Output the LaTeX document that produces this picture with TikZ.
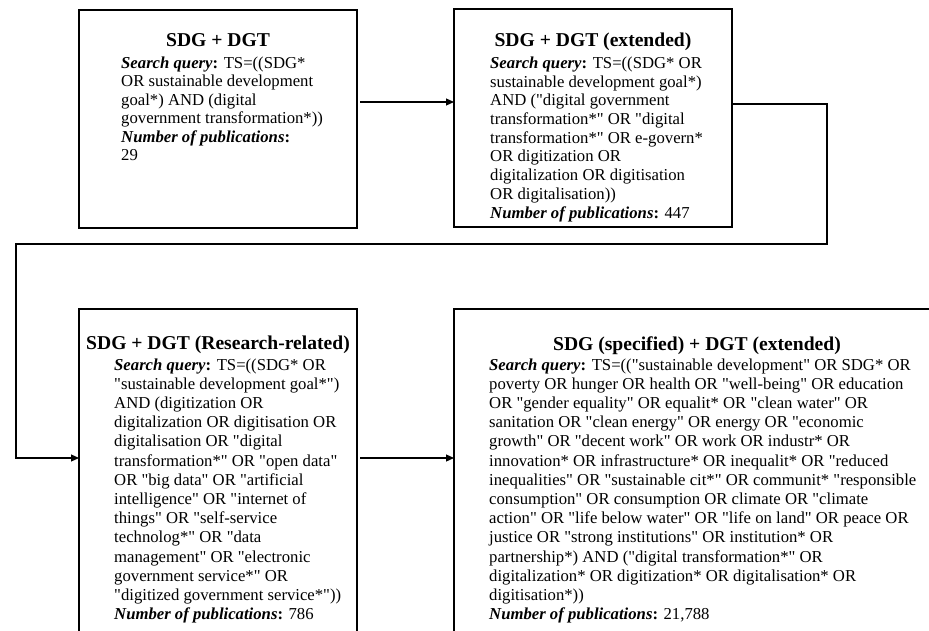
\documentclass[tikz,border=0pt]{standalone}
\usepackage{fontspec}
\setmainfont{Liberation Serif}[Ligatures=TeXOff]
\usetikzlibrary{arrows.meta}

% label macros for the query boxes
\newcommand{\sq}{\textbf{\textit{Search query}:}}
\newcommand{\np}{\textbf{\textit{Number of publications}:}}
% #1 = line spacing, #2 = lines separated by \\ (baseline = first line)
\newcommand{\qbody}[2]{{\fontsize{16.7}{#1}\selectfont\begin{tabular}[t]{@{}l@{}}#2\end{tabular}}}

\begin{document}
\begin{tikzpicture}[x=1pt, y=-1pt,
  qbox/.style={draw, line width=1.2pt, rectangle, inner sep=0pt, outer sep=0pt},
  qtitle/.style={anchor=base, inner sep=0pt, font=\fontsize{19.6}{22}\selectfont\bfseries},
  qtext/.style={anchor=base west, inner sep=0pt},
  conn/.style={draw, line width=1.2pt, -{Triangle[length=8pt, width=7pt]}},
  startgap/.style={shorten <=3pt}]

\useasboundingbox (0,0) rectangle (929,631);
\clip (0,0) rectangle (929,631);

% boxes
\node[qbox, minimum width=278pt, minimum height=218pt] (b1) at (218,119) {};
\node[qbox, minimum width=278pt, minimum height=218pt] (b2) at (593,118) {};
\node[qbox, minimum width=278pt, minimum height=391pt] (b3) at (218,504.5) {};
\node[qbox, minimum width=491pt, minimum height=391pt] (b4) at (699.5,504.5) {};

% titles
\node[qtitle] (h1) at (218,47) {SDG + DGT};
\node[qtitle] (h2) at (593,47) {SDG + DGT (extended)};
\node[qtitle] (h3) at (218,349) {SDG + DGT (Research-related)};
\node[qtitle] (h4) at (697,350) {SDG (specified) + DGT (extended)};

% query texts
\node[qtext] (t1) at (121,68.5) {\qbody{18.4}{%
\sq{} TS=((SDG*\\
OR sustainable development\\
goal*) AND (digital\\
government transformation*))\\
\np\\
29}};

\node[qtext] (t2) at (490,68.5) {\qbody{18.7}{%
\sq{} TS=((SDG* OR\\
sustainable development goal*)\\
AND ("digital government\\
transformation*" OR "digital\\
transformation*" OR e-govern*\\
OR digitization OR\\
digitalization OR digitisation\\
OR digitalisation))\\
\np{} 447}};

\node[qtext] (t3) at (114,370) {\qbody{19.2}{%
\sq{} TS=((SDG* OR\\
"sustainable development goal*")\\
AND (digitization OR\\
digitalization OR digitisation OR\\
digitalisation OR "digital\\
transformation*" OR "open data"\\
OR "big data" OR "artificial\\
intelligence" OR "internet of\\
things" OR "self-service\\
technolog*" OR "data\\
management" OR "electronic\\
government service*" OR\\
"digitized government service*"))\\
\np{} 786}};

\node[qtext] (t4) at (489,370) {\qbody{19.2}{%
\sq{} TS=(("sustainable development" OR SDG* OR\\
poverty OR hunger OR health OR "well-being" OR education\\
OR "gender equality" OR equalit* OR "clean water" OR\\
sanitation OR "clean energy" OR energy OR "economic\\
growth" OR "decent work" OR work OR industr* OR\\
innovation* OR infrastructure* OR inequalit* OR "reduced\\
inequalities" OR "sustainable cit*" OR communit* "responsible\\
consumption" OR consumption OR climate OR "climate\\
action" OR "life below water" OR "life on land" OR peace OR\\
justice OR "strong institutions" OR institution* OR\\
partnership*) AND ("digital transformation*" OR\\
digitalization* OR digitization* OR digitalisation* OR\\
digitisation*))\\
\np{} 21,788}};

% connector routing points
\coordinate (r1) at (0,102);
\coordinate (r2) at (0,104);
\coordinate (c2) at (827,244);
\coordinate (c4) at (16,458);

% connectors
\draw[conn, startgap] (b1.east |- r1) -- (b2.west |- r1);
\draw[conn] (b2.east |- r2) -| (c2) -| (c4) -- (b3.west |- c4);
\draw[conn, startgap] (b3.east |- c4) -- (b4.west |- c4);

\end{tikzpicture}
\end{document}
